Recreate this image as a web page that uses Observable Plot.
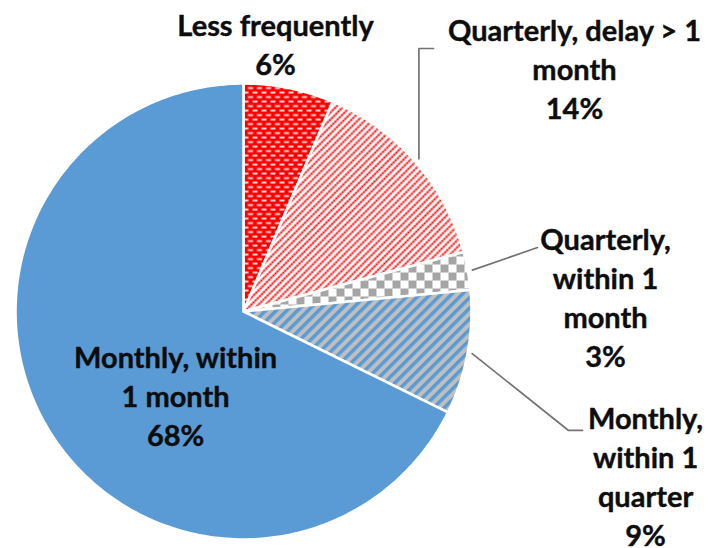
<!DOCTYPE html>
<html><head><meta charset="utf-8">
<script src="https://cdn.jsdelivr.net/npm/d3@7"></script>
<script src="https://cdn.jsdelivr.net/npm/@observablehq/plot@0.6"></script>
<style>body{margin:0;background:#fff}</style>
</head><body><div id="chart"></div>
<script>
// ---- data ----
const categories = ["Less frequently", "Quarterly, delay > 1 month", "Quarterly, within 1 month", "Monthly, within 1 quarter", "Monthly, within 1 month"];
const shares = [6.4, 14.4, 2.7, 8.8, 67.7];
const percentLabels = ["6%", "14%", "3%", "9%", "68%"];
const wrappedNames = ["Less frequently", "Quarterly, delay > 1\nmonth", "Quarterly,\nwithin 1\nmonth", "Monthly,\nwithin 1\nquarter", "Monthly, within\n1 month"];
const fills = ["url(#pLess)", "url(#pQDelay)", "url(#pQWithin)", "url(#pMQuarter)", "#5B9BD5"];

// ---- layout ----
const W = 710, H = 548, CX = 243, CY = 311, R = 228;
const labelPlacement = [ {r: 1.306, turn: -5.35}, {r: 1.933, turn: -0.28}, {r: 1.628, turn: -2.5}, {r: 1.814, turn: 3.12}, {r: 0.337, turn: 3.96} ];
const rad = d => d * Math.PI / 180;
const polar = (deg, r) => ({x: r * Math.sin(rad(deg)), y: r * Math.cos(rad(deg))});

const total = d3.sum(shares);
let acc = 0;
const slices = shares.map((v, i) => {
  const a0 = acc / total * 360; acc += v; const a1 = acc / total * 360;
  return {category: categories[i], a0, a1, mid: (a0 + a1) / 2};
});
const slicePts = [];
slices.forEach(s => {
  slicePts.push({category: s.category, x: 0, y: 0});
  const n = Math.max(2, Math.ceil(s.a1 - s.a0));
  for (let k = 0; k <= n; k++) {
    const p = polar(s.a0 + (s.a1 - s.a0) * k / n, 1);
    slicePts.push({category: s.category, ...p});
  }
  slicePts.push({category: s.category, x: 0, y: 0});
});
const labels = slices.map((s, i) => {
  const p = polar(s.mid + labelPlacement[i].turn, labelPlacement[i].r);
  return {...p, text: wrappedNames[i] + "\n" + percentLabels[i]};
});
const u = px => px / R;
const leaders = [];
{
  const a = labels[1], s = polar(slices[1].mid, 1.02);
  [[s.x, s.y], [s.x, a.y - u(28)], [a.x - u(141), a.y - u(28)]].forEach(([x, y]) => leaders.push({id: 1, x, y}));
}
{
  const a = labels[2], s = polar(slices[2].mid, 1.02);
  [[s.x, s.y], [a.x - u(68), a.y - u(18)]].forEach(([x, y]) => leaders.push({id: 2, x, y}));
}
{
  const a = labels[3], s = polar(slices[3].mid, 1.02);
  [[s.x, s.y], [a.x - u(77), a.y - u(22)], [a.x - u(63), a.y - u(22)]].forEach(([x, y]) => leaders.push({id: 3, x, y}));
}

const chart = Plot.plot({
  width: W, height: H, margin: 0,
  x: {domain: [-CX / R, (W - CX) / R], range: [0, W], axis: null},
  y: {domain: [-(H - CY) / R, CY / R], range: [H, 0], axis: null},
  color: {domain: categories, range: fills},
  style: {background: "#fff", overflow: "visible"},
  marks: [
    Plot.line(slicePts, {x: "x", y: "y", z: "category", fill: "category", stroke: "#fff", strokeWidth: 2.6, strokeLinejoin: "round", curve: "linear"}),
    Plot.line(leaders, {x: "x", y: "y", z: "id", stroke: "#737373", strokeWidth: 1.7, curve: "linear"}),
    Plot.text(labels, {x: "x", y: "y", dy: -7, text: "text", textAnchor: "middle", lineAnchor: "top", fontSize: 29, lineHeight: 39 / 29, fontFamily: "Lato", fontWeight: "bold", fill: "#0d0d0d", stroke: "#0d0d0d", strokeWidth: 0.4})
  ]
});
document.getElementById("chart").appendChild(chart);

// ---- fill patterns ----
const svg = d3.select(chart);
const defs = svg.insert("defs", ":first-child");
let p = defs.append("pattern").attr("id", "pLess").attr("patternUnits", "userSpaceOnUse").attr("width", 9).attr("height", 9);
p.append("rect").attr("width", 9).attr("height", 9).attr("fill", "#FF0000");
p.append("rect").attr("x", 0).attr("y", 1.2).attr("width", 5).attr("height", 1.8).attr("fill", "#fff").attr("opacity", 0.92);
p.append("rect").attr("x", 4.5).attr("y", 5.7).attr("width", 5).attr("height", 1.8).attr("fill", "#fff").attr("opacity", 0.92);
p.append("rect").attr("x", -4.5).attr("y", 5.7).attr("width", 5).attr("height", 1.8).attr("fill", "#fff").attr("opacity", 0.92);

p = defs.append("pattern").attr("id", "pQDelay").attr("patternUnits", "userSpaceOnUse").attr("width", 3).attr("height", 5).attr("patternTransform", "rotate(-45)");
p.append("rect").attr("width", 3).attr("height", 5).attr("fill", "#fff");
p.append("rect").attr("x", 0.3).attr("y", 1.5).attr("width", 2.3).attr("height", 2).attr("fill", "#FF0000");

p = defs.append("pattern").attr("id", "pQWithin").attr("patternUnits", "userSpaceOnUse").attr("width", 16).attr("height", 16);
p.append("rect").attr("width", 16).attr("height", 16).attr("fill", "#fff");
p.append("rect").attr("width", 8).attr("height", 8).attr("fill", "#A5A5A5");
p.append("rect").attr("x", 8).attr("y", 8).attr("width", 8).attr("height", 8).attr("fill", "#A5A5A5");

p = defs.append("pattern").attr("id", "pMQuarter").attr("patternUnits", "userSpaceOnUse").attr("width", 7.5).attr("height", 7.5).attr("patternTransform", "rotate(-45)");
p.append("rect").attr("width", 7.5).attr("height", 7.5).attr("fill", "#BFBFBF");
p.append("rect").attr("width", 7.5).attr("height", 3.5).attr("fill", "#5B9BD5");
</script>
</body></html>
